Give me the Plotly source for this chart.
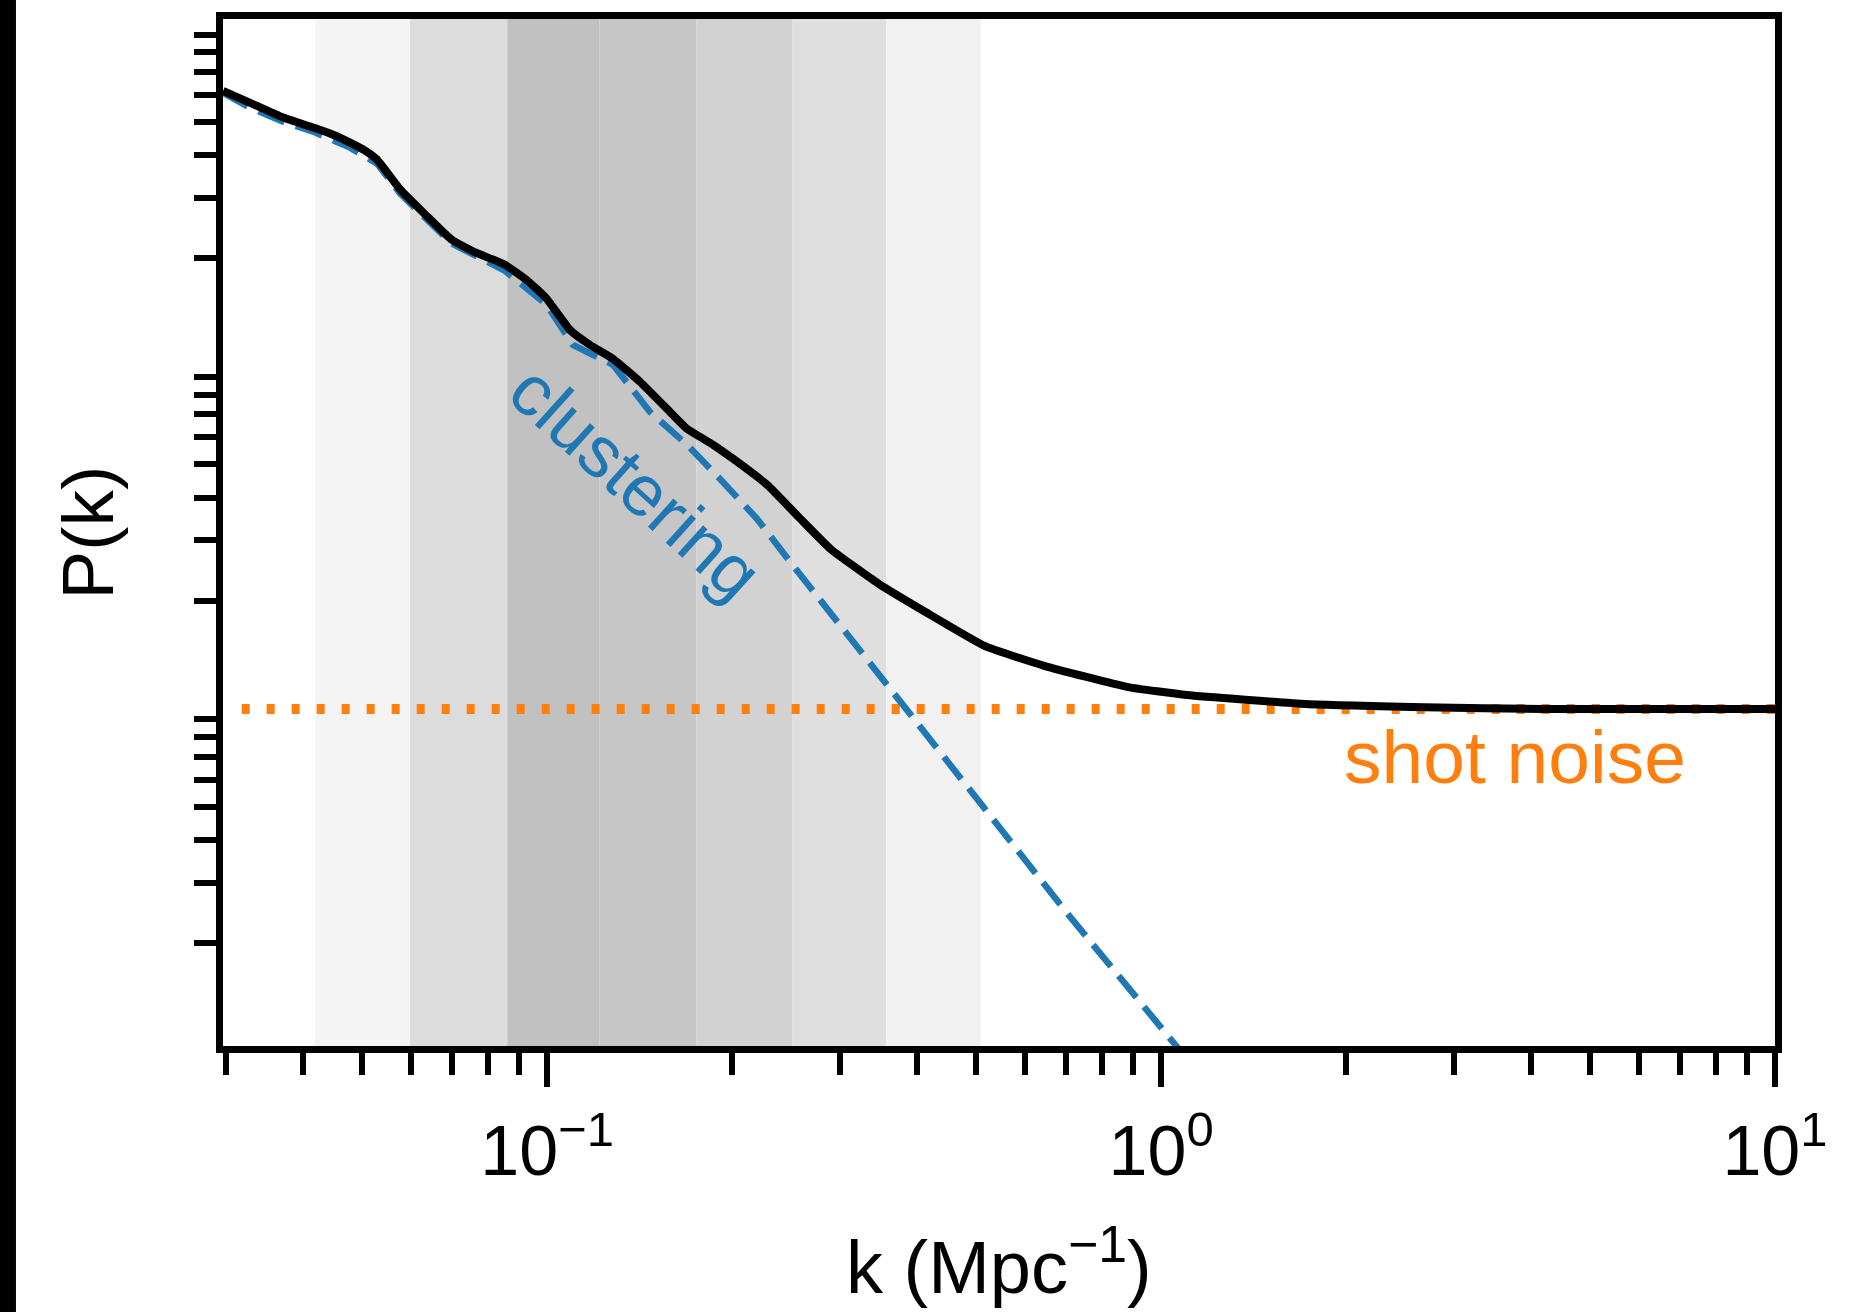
import plotly.graph_objects as go

# ---- data ----
k_total = [0.02965, 0.03283, 0.03715, 0.04159, 0.04481, 0.04775, 0.05052, 0.05284,
           0.05762, 0.06328, 0.06982, 0.07638, 0.08511, 0.09311, 0.09963, 0.1090,
           0.1175, 0.1281, 0.1417, 0.1568, 0.1690, 0.1864, 0.2009, 0.2282, 0.2582,
           0.2901, 0.3459, 0.4140, 0.5168, 0.6471, 0.8836, 1.102, 1.722, 2.681,
           4.188, 10.0]
p_total = [616.6, 568.9, 515.2, 481.9, 459.2, 435.5, 412.6, 388.2,
           317.7, 268.5, 227.0, 208.0, 192.1, 171.4, 152.9, 123.4,
           111.6, 101.6, 87.1, 72.6, 63.5, 57.05, 51.9, 43.6, 34.75,
           28.2, 22.46, 18.49, 14.72, 12.88, 11.18, 10.60, 9.977, 9.77,
           9.65, 9.65]

k_clust = [0.02965, 0.03283, 0.03715, 0.04159, 0.04775, 0.05284, 0.05762, 0.06982,
           0.08511, 0.09963, 0.1102, 0.1281, 0.1470, 0.1690, 0.1911, 0.2196,
           0.2486, 0.3176, 0.3843, 0.5168, 0.7059, 1.0554, 1.12]
p_clust = [608.5, 550.6, 501.2, 468.8, 421.0, 378.1, 309.1, 221.1,
           184.5, 146.9, 111.6, 97.6, 71.2, 57.05, 45.4, 34.7,
           26.0, 14.9, 9.58, 4.97, 2.42, 1.007, 0.883]

k_shot = [0.0318, 10.0]
p_shot = [9.65, 9.65]

band_edges = [0.0419, 0.0598, 0.0861, 0.1216, 0.1750, 0.2506, 0.3565, 0.509]
band_colors = ["#f4f4f4", "#dcdcdc", "#c1c1c1", "#c6c6c6", "#d2d2d2", "#dfdfdf", "#f1f1f1"]

x_major = [0.1, 1, 10]
x_major_text = ["10<sup>−1</sup>", "10<sup>0</sup>", "10<sup>1</sup>"]
x_minor = [0.03, 0.04, 0.05, 0.06, 0.07, 0.08, 0.09,
           0.2, 0.3, 0.4, 0.5, 0.6, 0.7, 0.8, 0.9,
           2, 3, 4, 5, 6, 7, 8, 9]
y_minor = [2, 3, 4, 5, 6, 7, 8, 9, 20, 30, 40, 50, 60, 70, 80, 90,
           200, 300, 400, 500, 600, 700, 800, 900]

FONT = "Liberation Sans, Arial, Helvetica, sans-serif"
BLUE = "#1f77b4"
ORANGE = "#ff7f0e"

fig = go.Figure()

# shaded k-bands
for i, col in enumerate(band_colors):
    a, b = band_edges[i], band_edges[i + 1]
    fig.add_trace(go.Scatter(x=[a, a, b, b, a], y=[0.5, 2000, 2000, 0.5, 0.5],
                             fill="toself", fillcolor=col, mode="lines",
                             line=dict(width=0), hoverinfo="skip", showlegend=False))

fig.add_trace(go.Scatter(x=k_shot, y=p_shot, mode="lines",
                         line=dict(color=ORANGE, width=10, dash="8px,17px"),
                         showlegend=False))
fig.add_trace(go.Scatter(x=k_clust, y=p_clust, mode="lines",
                         line=dict(color=BLUE, width=6.5, dash="28px,12px"),
                         showlegend=False))
fig.add_trace(go.Scatter(x=k_total, y=p_total, mode="lines",
                         line=dict(color="black", width=8, shape="spline", smoothing=0.4),
                         showlegend=False))

fig.update_layout(
    width=1861, height=1312,
    margin=dict(l=223, r=86, t=16, b=266),
    paper_bgcolor="white", plot_bgcolor="white",
    font=dict(family=FONT, color="black"),
    showlegend=False,
)

fig.update_xaxes(
    type="log", range=[-1.528, 1.0],
    showgrid=False, zeroline=False,
    showline=True, linewidth=7, linecolor="black", mirror=True,
    tickmode="array", tickvals=x_major, ticktext=x_major_text,
    ticks="outside", ticklen=34, tickwidth=6, tickcolor="black",
    ticklabelstandoff=4,
    tickfont=dict(size=70, family=FONT, color="black"),
    minor=dict(tickmode="array", tickvals=x_minor, ticks="outside",
               ticklen=22, tickwidth=6, tickcolor="black", showgrid=False),
)
fig.update_yaxes(
    type="log", range=[0, 3],
    showgrid=False, zeroline=False,
    showline=True, linewidth=7, linecolor="black", mirror=True,
    tickmode="array", tickvals=[], ticks="", showticklabels=False,
    minor=dict(tickmode="array", tickvals=y_minor, ticks="outside",
               ticklen=22, tickwidth=6, tickcolor="black", showgrid=False),
)

# left black strip of the original image
fig.add_shape(type="rect", xref="paper", yref="paper",
              x0=-0.1437, x1=-0.1334, y0=-0.3, y1=1.05,
              fillcolor="black", line=dict(width=0), layer="above")

fig.add_annotation(text="clustering", xref="paper", yref="paper",
                   x=0.266, y=0.5495, xanchor="center", yanchor="middle",
                   showarrow=False, textangle=42,
                   font=dict(size=72, color=BLUE, family=FONT))
fig.add_annotation(text="shot noise", xref="paper", yref="paper",
                   x=0.8325, y=0.2816, xanchor="center", yanchor="middle",
                   showarrow=False,
                   font=dict(size=75, color=ORANGE, family=FONT))
fig.add_annotation(text="P(k)", xref="paper", yref="paper",
                   x=-0.0876, y=0.5, xanchor="center", yanchor="middle",
                   showarrow=False, textangle=-90,
                   font=dict(size=73, color="black", family=FONT))
fig.add_annotation(text="k (Mpc<sup>−1</sup>)", xref="paper", yref="paper",
                   x=0.5, y=-0.2105, xanchor="center", yanchor="middle",
                   showarrow=False,
                   font=dict(size=74, color="black", family=FONT))

fig.write_html("out.html")
